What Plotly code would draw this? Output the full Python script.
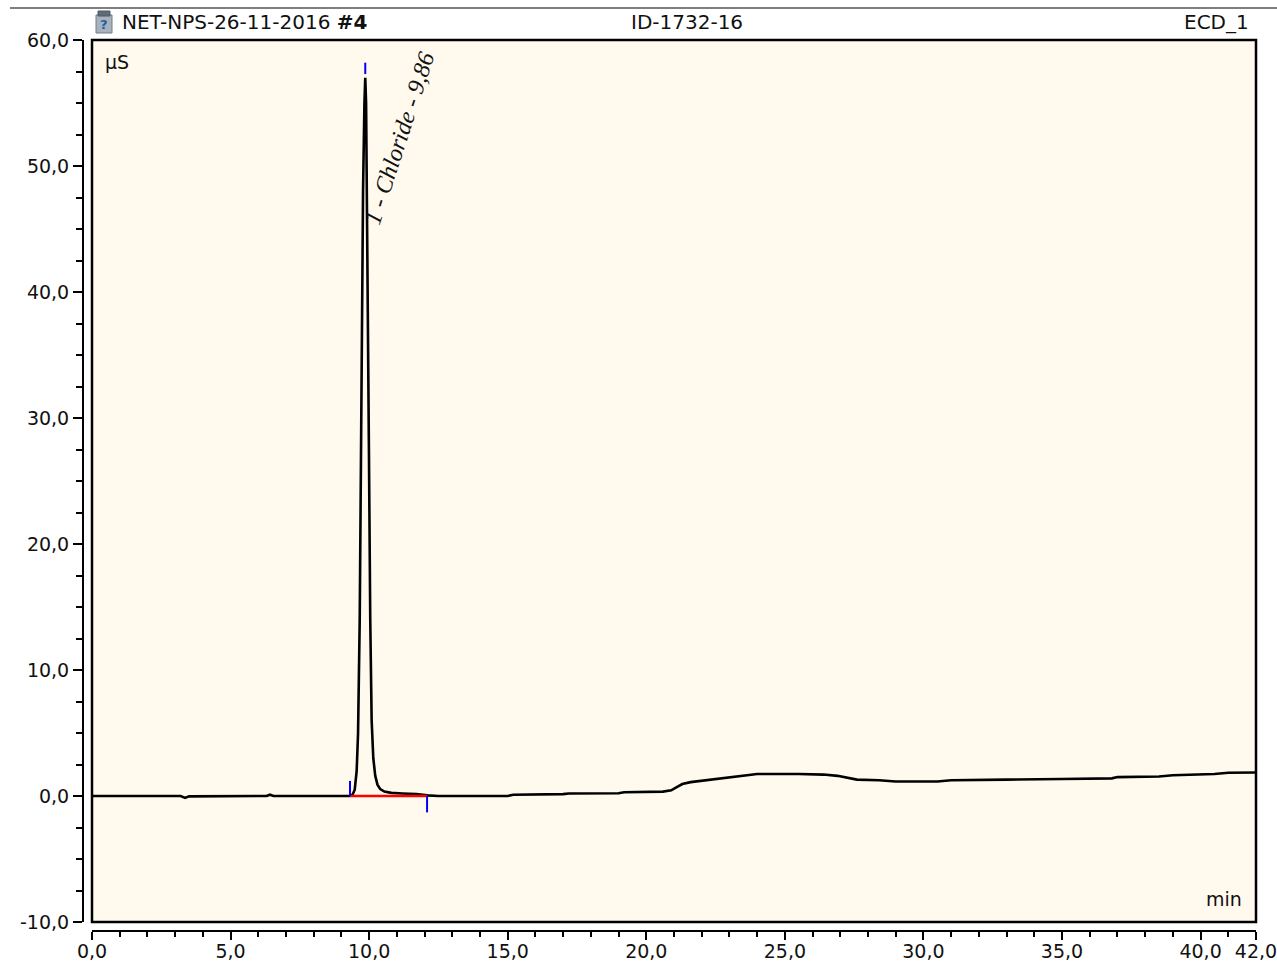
import plotly.graph_objects as go

# Chromatogram trace (retention time in min, conductivity in µS)
time_min = [0.0, 3.2, 3.36, 3.5, 6.3, 6.42, 6.55, 9.30, 9.40, 9.48, 9.55, 9.60, 9.66,
            9.72, 9.78, 9.83, 9.86, 9.89, 9.94, 9.99, 10.04, 10.09, 10.15, 10.22,
            10.30, 10.40, 10.55, 10.80, 11.20, 11.70, 12.10, 12.5, 15.0, 15.2, 17.0,
            17.2, 19.0, 19.2, 20.6, 20.9, 21.1, 21.3, 21.6, 22.0, 22.5, 23.0, 23.5,
            24.0, 25.5, 26.4, 26.9, 27.3, 27.6, 28.4, 29.0, 30.5, 31.0, 33.0, 34.9,
            35.0, 36.8, 37.0, 38.5, 39.0, 40.5, 41.0, 42.0]
signal_us = [0.0, 0.0, -0.15, -0.03, 0.0, 0.1, 0.0, 0.0, 0.1, 0.5, 2.0, 5.0, 14.0,
             32.0, 48.0, 55.0, 57.0, 55.0, 44.0, 28.0, 14.0, 6.0, 3.0, 1.6,
             0.9, 0.55, 0.35, 0.25, 0.2, 0.15, 0.05, 0.0, 0.0, 0.1, 0.15,
             0.2, 0.22, 0.3, 0.35, 0.45, 0.7, 0.95, 1.1, 1.2, 1.35, 1.5, 1.6,
             1.75, 1.75, 1.7, 1.6, 1.45, 1.3, 1.25, 1.15, 1.15, 1.25, 1.3, 1.3,
             1.35, 1.4, 1.5, 1.55, 1.65, 1.75, 1.85, 1.87]

# Integrated peak
peak_name = "1 - Chloride - 9,86"
peak_start_min = 9.31
peak_apex_min = 9.86
peak_end_min = 12.09
peak_apex_us = 57.0

x_ticks = [0, 5, 10, 15, 20, 25, 30, 35, 40, 42]
y_ticks = [-10, 0, 10, 20, 30, 40, 50, 60]


def decimal_comma(v):
    return f"{v:.1f}".replace(".", ",")


W, H = 1277, 962
FONT = "DejaVu Sans"
INK = "#111111"

fig = go.Figure()

fig.add_trace(go.Scatter(x=time_min, y=signal_us, mode="lines",
                         line=dict(color="black", width=2.6), hoverinfo="skip"))
# integration baseline
fig.add_trace(go.Scatter(x=[peak_start_min, peak_end_min], y=[0.0, 0.0], mode="lines",
                         line=dict(color="#ff0000", width=2.6), hoverinfo="skip"))
# peak delimiters
fig.add_trace(go.Scatter(x=[peak_start_min, peak_start_min], y=[1.2, 0.0], mode="lines",
                         line=dict(color="#0000ff", width=2), hoverinfo="skip"))
fig.add_trace(go.Scatter(x=[peak_end_min, peak_end_min], y=[0.0, -1.3], mode="lines",
                         line=dict(color="#0000ff", width=2), hoverinfo="skip"))
fig.add_trace(go.Scatter(x=[peak_apex_min, peak_apex_min],
                         y=[peak_apex_us + 0.3, peak_apex_us + 1.2], mode="lines",
                         line=dict(color="#0000ff", width=2), hoverinfo="skip"))

fig.add_annotation(x=11.1, y=52.2, xref="x", yref="y", text=peak_name,
                   textangle=-72, showarrow=False, xanchor="center", yanchor="middle",
                   font=dict(family="Liberation Serif", size=24, color=INK, style="italic"))

x0d, x1d = 92 / W, 1256 / W
y0d, y1d = 1 - 922 / H, 1 - 40 / H

fig.update_layout(
    width=W, height=H,
    margin=dict(l=0, r=0, t=0, b=0, autoexpand=False),
    paper_bgcolor="white",
    plot_bgcolor="#fff9ee",
    showlegend=False,
    font=dict(family=FONT, size=19, color=INK),
    xaxis=dict(domain=[x0d, x1d], range=[0, 42], anchor="free", position=1 - 931 / H,
               automargin=False, ticklabeloverflow="allow", ticklabelstandoff=-5,
               tickvals=x_ticks, ticktext=[decimal_comma(v) for v in x_ticks],
               ticks="outside", ticklen=8,
               tickwidth=2, tickcolor="black", showline=True, linecolor="black",
               linewidth=2, showgrid=False, zeroline=False,
               tickfont=dict(family=FONT, size=19, color=INK),
               minor=dict(dtick=1, ticks="outside", ticklen=5, tickwidth=2,
                          tickcolor="black", showgrid=False)),
    yaxis=dict(domain=[y0d, y1d], range=[-10, 60], anchor="free", position=83 / W,
               automargin=False, ticklabeloverflow="allow",
               tickvals=y_ticks, ticktext=[decimal_comma(v) for v in y_ticks],
               ticks="outside", ticklen=9,
               tickwidth=2, tickcolor="black", showline=True, linecolor="black",
               linewidth=2, showgrid=False, zeroline=False,
               tickfont=dict(family=FONT, size=19, color=INK),
               minor=dict(dtick=2.5, ticks="outside", ticklen=6, tickwidth=2,
                          tickcolor="black", showgrid=False)),
)

# plot frame
fig.add_shape(type="rect", xref="paper", yref="paper", x0=x0d, x1=x1d, y0=y0d, y1=y1d,
              line=dict(color="black", width=2.5), fillcolor="rgba(0,0,0,0)", layer="above")
# header rule
fig.add_shape(type="line", xref="paper", yref="paper", x0=10 / W, x1=1.0,
              y0=1 - 8 / H, y1=1 - 8 / H, line=dict(color="#555555", width=1.5))
# sample icon
fig.add_shape(type="rect", xref="paper", yref="paper", x0=96 / W, x1=112 / W,
              y0=1 - 33 / H, y1=1 - 15 / H, line=dict(color="#6f7f8c", width=1),
              fillcolor="#a7b2bc")
fig.add_shape(type="rect", xref="paper", yref="paper", x0=98 / W, x1=110 / W,
              y0=1 - 16 / H, y1=1 - 11 / H, line=dict(color="#4d5a66", width=1),
              fillcolor="#5f6c78")
fig.add_annotation(x=104 / W, y=1 - 25 / H, xref="paper", yref="paper", text="<b>?</b>",
                   showarrow=False, xanchor="center", yanchor="middle",
                   font=dict(family=FONT, size=13, color="#1f5fa8"))

header_y = 1 - 22 / H
fig.add_annotation(x=120 / W, y=header_y, xref="paper", yref="paper",
                   text="NET-NPS-26-11-2016 <b>#4</b>", showarrow=False,
                   xanchor="left", yanchor="middle", font=dict(family=FONT, size=20, color=INK))
fig.add_annotation(x=687 / W, y=header_y, xref="paper", yref="paper", text="ID-1732-16",
                   showarrow=False, xanchor="center", yanchor="middle",
                   font=dict(family=FONT, size=20, color=INK))
fig.add_annotation(x=1251 / W, y=header_y, xref="paper", yref="paper", text="ECD_1",
                   showarrow=False, xanchor="right", yanchor="middle",
                   font=dict(family=FONT, size=20, color=INK))

# axis units inside the frame
fig.add_annotation(x=103 / W, y=1 - 62 / H, xref="paper", yref="paper", text="µS",
                   showarrow=False, xanchor="left", yanchor="middle",
                   font=dict(family=FONT, size=19, color=INK))
fig.add_annotation(x=1244 / W, y=1 - 899 / H, xref="paper", yref="paper", text="min",
                   showarrow=False, xanchor="right", yanchor="middle",
                   font=dict(family=FONT, size=19, color=INK))

fig.write_html("out.html")
